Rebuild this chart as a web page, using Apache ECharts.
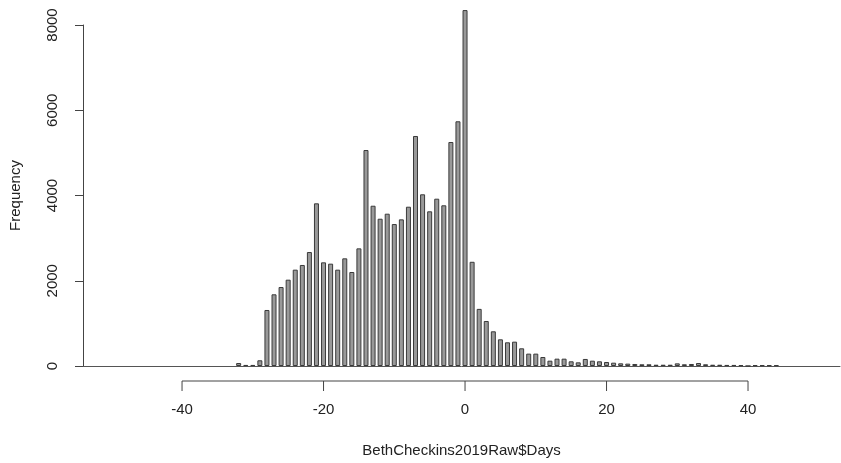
<!DOCTYPE html>
<html>
<head>
<meta charset="utf-8">
<title>Histogram of BethCheckins2019Raw$Days</title>
<script src="https://cdn.jsdelivr.net/npm/echarts@6/dist/echarts.min.js"></script>
<style>
  html, body { margin: 0; padding: 0; background: #fff; }
  #chart { width: 841px; height: 463px; }
</style>
</head>
<body>
<div id="chart"></div>
<script>
// days (bin centres) and counts
const days = [
  -32, -31, -30, -29, -28, -27, -26, -25, -24, -23, -22, -21, -20, -19, -18, -17,
  -16, -15, -14, -13, -12, -11, -10, -9, -8, -7, -6, -5, -4, -3, -2, -1,
  0, 1, 2, 3, 4, 5, 6, 7, 8, 9, 10, 11, 12, 13, 14, 15, 16,
  17, 18, 19, 20, 21, 22, 23, 24, 25, 26, 27, 28, 29, 30,
  31, 32, 33, 34, 35, 36, 37, 38, 39, 40, 41, 42, 43, 44
];
const freq = [
  70, 25, 25, 134, 1314, 1682, 1853, 2025, 2260, 2370, 2674, 3816, 2432, 2401, 2260, 2526,
  2205, 2760, 5067, 3760, 3455, 3573, 3330, 3440, 3737, 5396, 4028, 3629, 3925, 3770, 5255, 5741,
  8350, 2445, 1340, 1056, 814, 626, 556, 571, 415, 290, 290, 211, 125, 172, 172, 110, 86,
  165, 125, 110, 94, 78, 63, 55, 47, 40, 40, 30, 30, 30, 62,
  40, 47, 70, 40, 30, 30, 25, 25, 20, 0, 20, 20, 20, 20
];
const xTicks = [-40, -20, 0, 20, 40];

const font = "'Liberation Sans', Arial, sans-serif";
const textColor = '#222';
const axisColor = '#444';

const chart = echarts.init(document.getElementById('chart'));

const option = {
  animation: false,
  grid: { left: 83, right: 1, top: 25, bottom: 97 },
  xAxis: [
    {
      // baseline at zero
      type: 'value',
      min: -54,
      max: 53,
      axisLine: { show: true, onZero: false, lineStyle: { color: '#555', width: 1 } },
      axisTick: { show: false },
      axisLabel: { show: false },
      splitLine: { show: false }
    },
    {
      type: 'value',
      min: -54,
      max: 53,
      position: 'bottom',
      offset: 15,
      axisLine: { show: false },
      axisTick: { show: false },
      axisLabel: {
        customValues: xTicks,
        margin: 21,
        fontFamily: font,
        fontSize: 15,
        color: textColor
      },
      splitLine: { show: false },
      name: 'BethCheckins2019Raw$Days',
      nameLocation: 'middle',
      nameGap: 62,
      nameTextStyle: { fontFamily: font, fontSize: 15, color: textColor }
    }
  ],
  yAxis: {
    type: 'value',
    min: 0,
    max: 8000,
    interval: 2000,
    axisLine: { show: true, onZero: false, lineStyle: { color: axisColor } },
    axisTick: { show: true, length: 8, lineStyle: { color: axisColor } },
    axisLabel: {
      rotate: 90,
      margin: 23,
      formatter: v => String(v),
      fontFamily: font,
      fontSize: 15,
      color: textColor
    },
    splitLine: { show: false },
    name: 'Frequency',
    nameLocation: 'middle',
    nameGap: 60,
    nameTextStyle: { fontFamily: font, fontSize: 15, color: textColor }
  },
  series: [
    {
      type: 'bar',
      xAxisIndex: 0,
      clip: false,
      barWidth: 5,
      data: days.map((d, i) => [d, freq[i]]),
      itemStyle: { color: '#999', borderColor: '#3a3a3a', borderWidth: 1 }
    }
  ]
};
chart.setOption(option);

// R-style x axis: line and ticks only over the tick range
const axisY = chart.convertToPixel({ xAxisIndex: 1, yAxisIndex: 0 }, [0, 0])[1] + 15;
const tickPx = xTicks.map(t => chart.convertToPixel({ xAxisIndex: 1, yAxisIndex: 0 }, [t, 0])[0]);
const axisGraphics = [{
  type: 'line',
  shape: { x1: tickPx[0], y1: axisY, x2: tickPx[tickPx.length - 1], y2: axisY },
  style: { stroke: axisColor, lineWidth: 1 }
}];
tickPx.forEach(x => {
  axisGraphics.push({
    type: 'line',
    shape: { x1: x, y1: axisY, x2: x, y2: axisY + 10 },
    style: { stroke: axisColor, lineWidth: 1 }
  });
});
chart.setOption({ graphic: axisGraphics });
</script>
</body>
</html>
